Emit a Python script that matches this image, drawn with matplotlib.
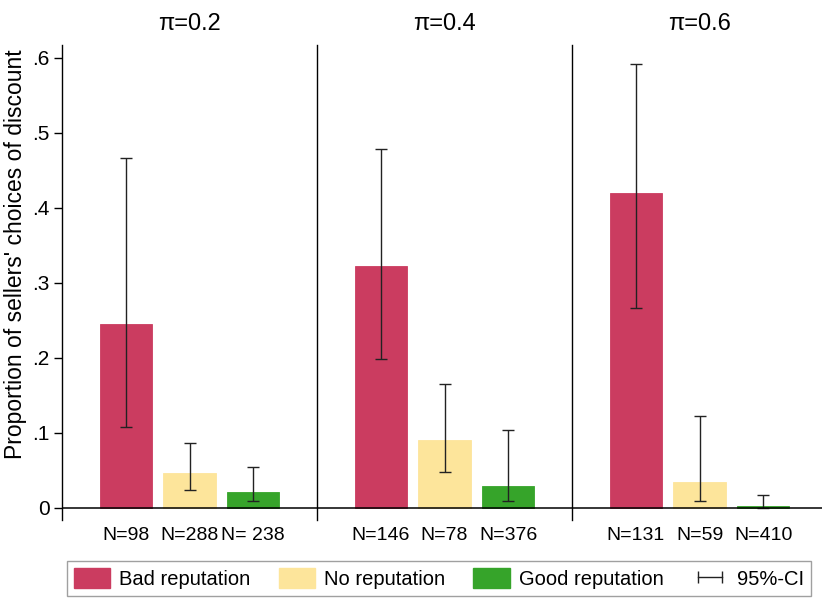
import matplotlib
matplotlib.use("Agg")
import matplotlib.pyplot as plt
from matplotlib.patches import Patch
from matplotlib.lines import Line2D

plt.rcParams['font.family'] = ['Liberation Sans', 'DejaVu Sans']

panels = ["π=0.2", "π=0.4", "π=0.6"]
groups = ["Bad reputation", "No reputation", "Good reputation"]
colors = ["#CB3C60", "#FDE59B", "#36A42A"]

means = [[0.245, 0.046, 0.021],
         [0.322, 0.090, 0.029],
         [0.420, 0.034, 0.0025]]
ci_low = [[0.108, 0.024, 0.009],
          [0.199, 0.048, 0.009],
          [0.267, 0.009, 0.000]]
ci_high = [[0.467, 0.087, 0.055],
           [0.478, 0.165, 0.104],
           [0.592, 0.123, 0.017]]
n_labels = [["N=98", "N=288", "N= 238"],
            ["N=146", "N=78", "N=376"],
            ["N=131", "N=59", "N=410"]]
yticks = [0, 0.1, 0.2, 0.3, 0.4, 0.5, 0.6]
ytick_labels = ["0", ".1", ".2", ".3", ".4", ".5", ".6"]

W, H = 822, 598
fig = plt.figure(figsize=(W / 100, H / 100), dpi=100)

left_px, pw, top_px, bot_px = 62, 255, 45, 520
xpos = [1, 2, 3]
for i, title in enumerate(panels):
    ax = fig.add_axes([(left_px + i * pw) / W, (H - bot_px) / H, pw / W, (bot_px - top_px) / H])
    ax.set_xlim(0, 4)
    ax.set_ylim(-0.016, 0.617)
    for j in range(3):
        m = means[i][j]
        ax.bar(xpos[j], m, width=0.82, color=colors[j], edgecolor=colors[j], linewidth=0.6, zorder=2)
        ax.errorbar(xpos[j], m, yerr=[[m - ci_low[i][j]], [ci_high[i][j] - m]],
                    fmt='none', ecolor='#222222', elinewidth=1.0, capsize=4, capthick=1.0, zorder=3)
    ax.axhline(0, color='black', lw=1.1, zorder=4)
    for s in ['top', 'right', 'bottom']:
        ax.spines[s].set_visible(False)
    ax.spines['left'].set_linewidth(1.0)
    ax.set_xticks(xpos)
    ax.set_xticklabels(n_labels[i], fontsize=14)
    ax.tick_params(axis='x', length=0, pad=5)
    ax.set_title(title, fontsize=17, pad=11)
    if i == 0:
        ax.set_yticks(yticks)
        ax.set_yticklabels(ytick_labels, fontsize=15)
        ax.tick_params(axis='y', length=6, width=1.0, pad=3)
        ax.set_ylabel("Proportion of sellers' choices of discount", fontsize=16.5)
        ax.yaxis.set_label_coords(-35 / pw, (bot_px - 254) / (bot_px - top_px))
    else:
        ax.set_yticks([])
    ax.patch.set_alpha(0)

handles = [Patch(facecolor=c, edgecolor=c) for c in colors]
handles.append(Line2D([0, 1], [0, 0], color='#222222', lw=1.0, marker='|', markersize=8, markeredgewidth=1.0))
labels = groups + ["95%-CI"]
leg = fig.legend(handles, labels, loc='center left', ncol=4, numpoints=2,
                 bbox_to_anchor=(67 / W, 1 - 578.5 / H),
                 fontsize=14.5, frameon=True, fancybox=False, edgecolor='#888888',
                 handlelength=1.8, handleheight=1.1, handletextpad=0.45, borderaxespad=0,
                 borderpad=0.35, columnspacing=1.4)
leg.get_frame().set_linewidth(1.0)

fig.savefig("out.png", dpi=100)
